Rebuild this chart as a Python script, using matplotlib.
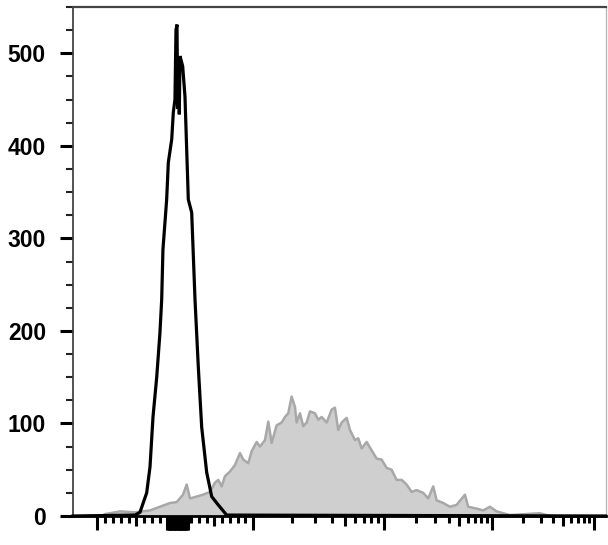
import numpy as np
import matplotlib
matplotlib.use("Agg")
import matplotlib.pyplot as plt
from matplotlib.ticker import FixedLocator, NullFormatter, MultipleLocator

# fluorescence intensity (x) and event counts
black_x = [-1525, -519, -456, -371, -329, -291, -244, -203, -181, -165, -118, -97,
           -54, -34, -13, 0, 13, 23, 34, 43, 52, 87, 117, 160, 204, 247, 290, 334,
           399, 464, 549, 658, 1.3e6]
black_counts = [0, 1, 4, 25, 53, 107, 150, 198, 234, 288, 342, 382,
                407, 436, 450, 525, 531, 440, 494, 434, 497, 486, 453, 342, 328, 234, 161, 96,
                47, 21, 12, 1, 0]

gray_x = [-899, -709, -519, -329, -203, -76, 9, 91, 139, 182, 269, 351, 442, 506, 549,
          594, 636, 701, 766, 831, 874, 939, 983, 1067, 1131, 1235, 1309, 1389, 1517,
          1656, 1755, 1860, 1974, 2092, 2156, 2285, 2421, 2570, 2724, 2974, 3151, 3345,
          3653, 3990, 4227, 4479, 4755, 5193, 5502, 6007, 6365, 6756, 7379, 8057, 8797,
          9603, 10593, 11784, 13108, 14583, 16228, 18048, 20085, 23113, 25718, 28608,
          30761, 35408, 40832, 47115, 56234, 60337, 72161, 83080, 95832, 111200,
          129040, 150200, 295500, 370500]
gray_counts = [2, 5, 4, 6, 10, 14, 15, 23, 34, 19, 21, 23, 26, 36, 39,
               32, 43, 48, 55, 68, 61, 57, 70, 80, 75, 82, 102, 79, 98,
               101, 107, 111, 129, 118, 101, 111, 97, 101, 113, 111, 104, 107,
               101, 115, 117, 93, 101, 106, 93, 82, 84, 73, 80, 71, 62,
               61, 52, 50, 39, 39, 34, 26, 28, 25, 19, 32,
               17, 14, 10, 12, 23, 10, 8, 6, 10, 5,
               3, 1, 3, 0]

y_major = [0, 100, 200, 300, 400, 500]

# axis ticks (no labels on x)
x_tall = [-1000, 1000, 1e4, 1e5, 1e6] + list(range(-110, 151, 10))
x_mid = [-500, 500, 5000, 5e4, 5e5]
x_minor = ([v for v in range(-900, 0, 100) if v not in (-500, -100)]
           + [v for v in range(200, 1000, 100) if v != 500]
           + [m * 10 ** e for e in (3, 4, 5) for m in range(2, 10) if m != 5])

# logicle-like display: linear near zero, log decades above 1000
knot_u = np.array([-3.0, -2, -1, 0, 1, 2, 3, 4, 5])
knot_p = np.array([-165.0, -34, 97, 176, 253, 384, 492, 594, 696])


def to_u(x):
    x = np.asarray(x, dtype=float)
    a = np.abs(x)
    logpart = np.sign(x) * (1 + np.log10(np.maximum(a, 1000.0) / 1000.0))
    return np.where(a <= 1000, x / 1000.0, logpart)


def from_u(u):
    u = np.asarray(u, dtype=float)
    a = np.abs(u)
    return np.where(a <= 1, u * 1000.0, np.sign(u) * 1000.0 * 10 ** (np.maximum(a, 1) - 1))


def fwd(x):
    return np.interp(to_u(x), knot_u, knot_p)


def inv(p):
    return from_u(np.interp(np.asarray(p, dtype=float), knot_p, knot_u))


plt.rcParams['font.family'] = ['Liberation Sans', 'DejaVu Sans']

fig = plt.figure(figsize=(6.08, 5.45), dpi=100)
ax = fig.add_axes([73 / 608, 29 / 545, 532.5 / 608, 509 / 545])
ax.set_xscale('function', functions=(fwd, inv))

ax.fill_between(gray_x, gray_counts, color='#cfcfcf', lw=0, zorder=1)
ax.plot(gray_x, gray_counts, color='#a8a8a8', lw=1.8, zorder=2)
ax.plot(black_x, black_counts, color='black', lw=2.3, zorder=4, clip_on=False,
        solid_joinstyle='miter')

ax.set_xlim(-1525, 1.3e6)
ax.set_ylim(0, 550)

# y axis
ax.yaxis.set_major_locator(FixedLocator(y_major))
ax.yaxis.set_minor_locator(MultipleLocator(25))
ax.tick_params(axis='y', which='major', direction='out', length=9.5, width=2.2,
               labelsize=16.5, pad=10, color='black')
ax.tick_params(axis='y', which='minor', direction='out', length=5, width=1.5, color='#222222')
for lab in ax.get_yticklabels():
    lab.set_fontweight('bold')

# x axis
ax.xaxis.set_major_locator(FixedLocator(x_tall + x_mid))
ax.xaxis.set_minor_locator(FixedLocator(x_minor))
ax.xaxis.set_major_formatter(NullFormatter())
ax.xaxis.set_minor_formatter(NullFormatter())
ax.tick_params(axis='x', which='major', direction='out', length=10, width=2.2, pad=2)
ax.tick_params(axis='x', which='minor', direction='out', length=5, width=2.2)
mid_set = set(x_mid)
for t, v in zip(ax.xaxis.get_major_ticks(), x_tall + x_mid):
    if v in mid_set:
        t.tick1line.set_markersize(7.5)

ax.spines['left'].set_color('#444444')
ax.spines['left'].set_linewidth(1.3)
ax.spines['top'].set_color('#444444')
ax.spines['top'].set_linewidth(1.6)
ax.spines['right'].set_color('#bbbbbb')
ax.spines['right'].set_linewidth(1.0)
ax.spines['bottom'].set_color('black')
ax.spines['bottom'].set_linewidth(2.0)

fig.savefig('out.png', dpi=100)
